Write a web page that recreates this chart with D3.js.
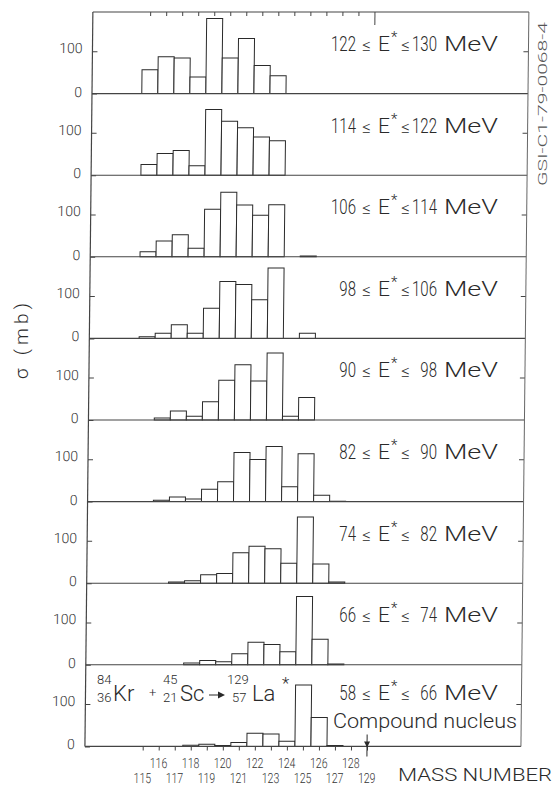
<!DOCTYPE html>
<html><head><meta charset="utf-8">
<script src="https://cdn.jsdelivr.net/npm/d3@7"></script>
<style>body{margin:0;background:#fff} text{font-weight:300}</style>
</head><body>
<script>
// ---- data ----
const masses = [115,116,117,118,119,120,121,122,123,124,125,126,127];
const sigma_122_130 = [56,87,84,39,177,84,130,66,42,0,0,0,0];
const sigma_114_122 = [25,51,58,22,155,127,112,90,81,0,0,0,0];
const sigma_106_114 = [12,37,52,20,112,152,122,98,123,0,2,0,0];
const sigma_98_106  = [4,12,32,12,71,134,127,91,166,0,12,0,0];
const sigma_90_98   = [0,5,21,9,43,94,130,92,158,9,53,0,0];
const sigma_82_90   = [0,3,11,6,29,47,116,99,130,35,113,15,1];
const sigma_74_82   = [0,0,3,6,20,23,72,87,81,47,156,45,3];
const sigma_66_74   = [0,0,0,4,10,7,26,53,48,31,161,60,2];
const sigma_58_66   = [0,0,0,3,5,2,9,31,29,12,145,68,2];
const eLow  = [122,114,106,98,90,82,74,66,58];
const eHigh = [130,122,114,106,98,90,82,74,66];
const xTicksUpper = [116,118,120,122,124,126,128];
const xTicksLower = [115,117,119,121,123,125,127,129];
const xTickMasses = d3.range(115,130);
const yTicks = [0,100];
const compoundMass = 129;

const panels = [sigma_122_130,sigma_114_122,sigma_106_114,sigma_98_106,sigma_90_98,
                sigma_82_90,sigma_74_82,sigma_66_74,sigma_58_66];

// ---- layout ----
const W = 555, H = 787;
const pLeft = 93, pRight = 529, pTop = 12, ph = 81.6;
const pBottom = pTop + panels.length * ph;
const ink = "#2a2a2a", lineC = "#444";
const sans = "Roboto, 'Open Sans', 'Liberation Sans', sans-serif";

const svg = d3.select("body").append("svg").attr("width", W).attr("height", H)
  .style("background", "#fff");

const x = d3.scaleLinear().domain([115,129]).range([150.8, 375.1]);
const bw = x(116) - x(115);

// plot group: slight shear like the scanned figure
const g = svg.append("g").attr("transform", "skewX(-0.62)");

panels.forEach((vals, i) => {
  const y = d3.scaleLinear().domain([0, 192.4]).range([pTop + (i+1)*ph, pTop + i*ph]);
  const pg = g.append("g");
  const data = masses.map((m, k) => ({m, v: vals[k]})).filter(d => d.v > 0);
  pg.selectAll("rect").data(data).join("rect")
    .attr("x", d => x(d.m) - bw/2).attr("width", bw)
    .attr("y", d => y(d.v)).attr("height", d => y(0) - y(d.v))
    .attr("fill", "#fff").attr("stroke", ink).attr("stroke-width", 1);
  pg.append("line").attr("x1", pLeft).attr("x2", pRight)
    .attr("y1", y(0)).attr("y2", y(0)).attr("stroke", lineC).attr("stroke-width", 1.1);
  const ax = d3.axisRight(y).tickValues(yTicks).tickSize(5).tickFormat("");
  const axg = pg.append("g").attr("transform", `translate(${pLeft},0)`).call(ax);
  axg.select(".domain").remove();
  axg.selectAll("line").attr("stroke", lineC);
  pg.selectAll("text.yl").data(yTicks).join("text").attr("class","yl")
    .attr("x", pLeft - 10).attr("y", d => y(d) + (d === 0 ? 3 : 2))
    .attr("text-anchor", "end").attr("font-family", sans).attr("font-size", 14)
    .attr("fill", "#333").text(d => d);
  const axR = d3.axisLeft(y).tickValues([100]).tickSize(5).tickFormat("");
  const arg = pg.append("g").attr("transform", `translate(${pRight},0)`).call(axR);
  arg.select(".domain").remove();
  arg.selectAll("line").attr("stroke", lineC);
});

// frame
g.append("line").attr("x1", pLeft).attr("x2", pRight).attr("y1", pTop).attr("y2", pTop)
  .attr("stroke", lineC).attr("stroke-width", 1.1);
g.append("line").attr("x1", pLeft).attr("x2", pLeft).attr("y1", pTop).attr("y2", pBottom)
  .attr("stroke", lineC).attr("stroke-width", 1.2);
g.append("line").attr("x1", pRight).attr("x2", pRight).attr("y1", pTop).attr("y2", pBottom)
  .attr("stroke", "#666").attr("stroke-width", 1);

// top ticks (inward)
g.selectAll("line.tt").data(xTickMasses).join("line").attr("class","tt")
  .attr("x1", d => x(d)).attr("x2", d => x(d))
  .attr("y1", pTop).attr("y2", d => pTop + (d === compoundMass ? 13 : 4))
  .attr("stroke", lineC);
// bottom ticks (outward)
const xb = d3.axisBottom(x).tickValues(xTickMasses).tickSize(4).tickFormat("");
const xbg = g.append("g").attr("transform", `translate(0,${pBottom})`).call(xb);
xbg.select(".domain").remove();
xbg.selectAll("line").attr("stroke", lineC);
// compound-nucleus marker arrow at 129
g.append("line").attr("x1", x(compoundMass)).attr("x2", x(compoundMass))
  .attr("y1", pBottom - 12).attr("y2", pBottom + 10).attr("stroke", ink);
g.append("path")
  .attr("d", `M${x(compoundMass)-3},${pBottom-5} L${x(compoundMass)+3},${pBottom-5} L${x(compoundMass)},${pBottom+1} Z`)
  .attr("fill", ink);

// x tick labels (two rows), narrow digits via horizontal compression
[[xTicksUpper, 22], [xTicksLower, 37]].forEach(([arr, dy], r) => {
  g.selectAll(`text.x${r}`).data(arr).join("text").attr("class", `x${r}`)
    .attr("transform", d => `translate(${x(d)},${pBottom + dy}) scale(0.75,1)`)
    .attr("text-anchor", "middle")
    .attr("font-family", sans).attr("font-size", 14).attr("fill", "#333").text(d => d);
});

// energy labels; digits drawn tall and narrow like the lettering
const num = (sel, n, xEnd, yb) => sel.append("text")
  .attr("transform", `translate(${xEnd},${yb}) scale(1,1.4)`)
  .attr("text-anchor", "end").attr("font-size", 15).text(n);
eLow.forEach((lo, i) => {
  const yb = pTop + i*ph + (i === 8 ? 35 : 39);
  const lg = svg.append("g").attr("fill", ink).attr("font-family", sans);
  num(lg, lo, 356, yb);
  lg.append("text").attr("x", 362).attr("y", yb).attr("font-size", 17).text("≤");
  lg.append("text").attr("x", 378).attr("y", yb).attr("font-size", 21).text("E");
  lg.append("text").attr("x", 391).attr("y", yb - 9).attr("font-size", 15).text("*");
  lg.append("text").attr("x", 401).attr("y", yb).attr("font-size", 17).text("≤");
  num(lg, eHigh[i], 437, yb);
  lg.append("text").attr("x", 444).attr("y", yb).attr("font-size", 21)
    .attr("textLength", 54).attr("lengthAdjust","spacingAndGlyphs").text("MeV");
});

// reaction label
const rg = svg.append("g").attr("fill", ink).attr("font-family", sans);
const small = 13, big = 22, supY = 684, subY = 702, baseY = 701;
[["84",97,supY],["36",97,subY],["45",163,supY],["21",163,subY],["129",227,supY],["57",232,subY]]
  .forEach(([t,xx,yy]) => rg.append("text").attr("x",xx).attr("y",yy).attr("font-size",small).text(t));
[["Kr",113],["Sc",180],["La",252]].forEach(([t,xx]) =>
  rg.append("text").attr("x",xx).attr("y",baseY).attr("font-size",big).text(t));
rg.append("text").attr("x",149).attr("y",697).attr("font-size",13).text("+");
rg.append("text").attr("x",282).attr("y",689).attr("font-size",17).text("*");
svg.append("line").attr("x1",209).attr("x2",223).attr("y1",695).attr("y2",695).attr("stroke",ink);
svg.append("path").attr("d","M218,691.5 L225,695 L218,698.5 Z").attr("fill",ink);

svg.append("text").attr("x",333).attr("y",728).attr("font-family",sans).attr("font-size",21)
  .attr("fill",ink).attr("textLength",184).attr("lengthAdjust","spacingAndGlyphs").text("Compound nucleus");

// axis titles
svg.append("text").attr("transform","translate(28,341) rotate(-90)").attr("text-anchor","middle")
  .attr("font-family",sans).attr("font-size",19).attr("fill",ink)
  .attr("textLength",76).attr("lengthAdjust","spacing").text("σ (mb)");
svg.append("text").attr("x",398).attr("y",781).attr("font-family",sans).attr("font-size",19)
  .attr("fill",ink).attr("textLength",154).attr("lengthAdjust","spacingAndGlyphs").text("MASS NUMBER");
svg.append("text").attr("transform","translate(547,104) rotate(-90)").attr("text-anchor","middle")
  .attr("font-family",sans).attr("font-size",13).attr("fill","#555")
  .attr("textLength",164).attr("lengthAdjust","spacingAndGlyphs").text("GSI-C1-79-0068-4");
</script>
</body></html>
